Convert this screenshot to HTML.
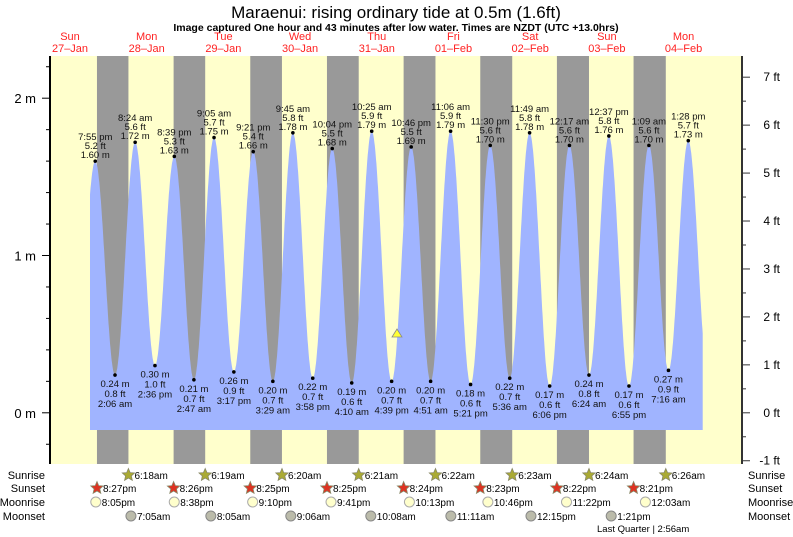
<!DOCTYPE html>
<html><head><meta charset="utf-8"><style>
body{margin:0;background:#fff;}
svg{display:block;font-family:"Liberation Sans",sans-serif;}
</style></head><body>
<svg id="s" width="793" height="537" viewBox="0 0 793 537" xmlns="http://www.w3.org/2000/svg"></svg>
<script>
const S=document.getElementById('s');
function el(tag,attrs,text){const e=document.createElementNS('http://www.w3.org/2000/svg',tag);for(const k in attrs)e.setAttribute(k,attrs[k]);if(text!==undefined)e.textContent=text;S.appendChild(e);return e;}
const X=t=>31.6+t*3.196; // t = hours since midnight Jan 27
const Y=m=>412.8-m*157.3;
// background
el('rect',{x:50,y:56,width:692,height:408,fill:'#ffffcc'});
const sunrise=[[1,6,18],[2,6,19],[3,6,20],[4,6,21],[5,6,22],[6,6,23],[7,6,24],[8,6,26]];
const sunset=[[0,20,27],[1,20,26],[2,20,25],[3,20,25],[4,20,24],[5,20,23],[6,20,22],[7,20,21]];
for(let i=0;i<8;i++){const a=X(sunset[i][0]*24+sunset[i][1]+sunset[i][2]/60),b=X(sunrise[i][0]*24+sunrise[i][1]+sunrise[i][2]/60);el('rect',{x:a,y:56,width:b-a,height:408,fill:'#999999'});}
// tides
const H=[[0,19,55,1.60],[1,2,6,0.24],[1,8,24,1.72],[1,14,36,0.30],[1,20,39,1.63],[2,2,47,0.21],[2,9,5,1.75],[2,15,17,0.26],[2,21,21,1.66],[3,3,29,0.20],[3,9,45,1.78],[3,15,58,0.22],[3,22,4,1.68],[4,4,10,0.19],[4,10,25,1.79],[4,16,39,0.20],[4,22,46,1.69],[5,4,51,0.20],[5,11,6,1.79],[5,17,21,0.18],[5,23,30,1.70],[6,5,36,0.22],[6,11,49,1.78],[6,18,6,0.17],[7,0,17,1.70],[7,6,24,0.24],[7,12,37,1.76],[7,18,55,0.17],[8,1,9,1.70],[8,7,16,0.27],[8,13,28,1.73]];
const E=H.map(h=>[h[0]*24+h[1]+h[2]/60,h[3]]);
const EE=[[E[0][0]-6.2,0.30],...E,[E[E.length-1][0]+6.2,0.25]];
function tide(t){for(let i=0;i<EE.length-1;i++){const[a,va]=EE[i],[b,vb]=EE[i+1];if(t>=a&&t<=b){const f=(1-Math.cos(Math.PI*(t-a)/(b-a)))/2;return va+(vb-va)*f;}}return 0.3;}
const t0=(90-31.6)/3.196,t1=(702.7-31.6)/3.196;
let d=`M90,430 `;for(let t=t0;t<=t1;t+=0.1)d+=`L${X(t).toFixed(1)},${Y(tide(t)).toFixed(1)} `;d+=`L702.7,${Y(tide(t1)).toFixed(1)} L702.7,430 Z`;
el('path',{d:d,fill:'#a0b4ff'});
function fmt(h,m){const ap=h>=12?'pm':'am';let hh=h%12;if(hh==0)hh=12;return hh+':'+String(m).padStart(2,'0')+' '+ap;}
H.forEach(h=>{const t=h[0]*24+h[1]+h[2]/60,x=X(t),y=Y(h[3]),hi=h[3]>1;el('circle',{cx:x,cy:y,r:1.8,fill:'#000'});
const ft=(h[3]/0.3048).toFixed(1)+' ft',m=h[3].toFixed(2)+' m',tm=fmt(h[1],h[2]);
const L=hi?[tm,ft,m]:[m,ft,tm];const ys=hi?[y-21,y-12,y-3]:[y+12,y+22,y+32];
L.forEach((s,i)=>el('text',{x:x,y:ys[i],'font-size':9.5,'text-anchor':'middle',fill:'#111'},s));});
// current triangle
el('polygon',{points:'397,329 392,337 402,337',fill:'#ffff33',stroke:'#888','stroke-width':0.8});
// axes
el('line',{x1:50,y1:56,x2:50,y2:464,stroke:'#000','stroke-width':2});
el('line',{x1:742,y1:56,x2:742,y2:464,stroke:'#333','stroke-width':2});
for(let m=-0.2;m<=2.3;m+=0.2){const y=Y(m);if(y<56||y>464)continue;const major=Math.abs(m-Math.round(m))<0.01;el('line',{x1:major?42:46,y1:y,x2:50,y2:y,stroke:'#000','stroke-width':1});if(major)el('text',{x:36,y:y+5,'font-size':13,'text-anchor':'end',fill:'#000'},Math.round(m)+' m');}
for(let f=-1;f<=7.5;f+=0.5){const y=Y(f*0.3048);if(y<56||y>466)continue;const major=f%1==0;el('line',{x1:742,y1:y,x2:major?750:746,y2:y,stroke:'#333','stroke-width':1});if(major)el('text',{x:780,y:y+4,'font-size':12,'text-anchor':'end',fill:'#000'},f+' ft');}
// titles
el('text',{x:396,y:18,'font-size':17,'text-anchor':'middle',fill:'#000'},'Maraenui: rising  ordinary tide at 0.5m (1.6ft)');
el('text',{x:396,y:31,'font-size':10.5,'font-weight':'bold','text-anchor':'middle',fill:'#000'},'Image captured One hour and 43 minutes after low water. Times are NZDT (UTC +13.0hrs)');
const days=[['Sun','27\u2013Jan'],['Mon','28\u2013Jan'],['Tue','29\u2013Jan'],['Wed','30\u2013Jan'],['Thu','31\u2013Jan'],['Fri','01\u2013Feb'],['Sat','02\u2013Feb'],['Sun','03\u2013Feb'],['Mon','04\u2013Feb']];
days.forEach((dd,i)=>{const x=i==0?70:X(i*24+12);el('text',{x:x,y:40,'font-size':11,'text-anchor':'middle',fill:'#ff2222'},dd[0]);el('text',{x:x,y:52,'font-size':11,'text-anchor':'middle',fill:'#ff2222'},dd[1]);});
// bottom rows
const rows=['Sunrise','Sunset','Moonrise','Moonset'],ry=[475,488,502,516];
rows.forEach((r,i)=>{el('text',{x:45,y:ry[i]+4,'font-size':11,'text-anchor':'end',fill:'#000'},r);el('text',{x:748,y:ry[i]+4,'font-size':11,fill:'#000'},r);});
function star(x,y,fill){let p='';for(let k=0;k<10;k++){const r=k%2?3:6.5,a=-Math.PI/2+k*Math.PI/5;p+=(x+r*Math.cos(a)).toFixed(1)+','+(y+r*Math.sin(a)).toFixed(1)+' ';}el('polygon',{points:p,fill:fill,stroke:'#886',"stroke-width":0.8});}
function tm2(h,m){const ap=h>=12?'pm':'am';let hh=h%12;if(hh==0)hh=12;return hh+':'+String(m).padStart(2,'0')+ap;}
sunrise.forEach(s=>{const x=X(s[0]*24+s[1]+s[2]/60);star(x,ry[0],'#aaaa33');el('text',{x:x+6,y:ry[0]+4,'font-size':10,fill:'#000'},tm2(s[1],s[2]));});
sunset.forEach(s=>{const x=X(s[0]*24+s[1]+s[2]/60);star(x,ry[1],'#dd3322');el('text',{x:x+6,y:ry[1]+4,'font-size':10,fill:'#000'},tm2(s[1],s[2]));});
const mr=[[0,20,5],[1,20,38],[2,21,10],[3,21,41],[4,22,13],[5,22,46],[6,23,22],[8,0,3]];
mr.forEach(s=>{const x=X(s[0]*24+s[1]+s[2]/60);el('circle',{cx:x,cy:ry[2],r:5,fill:'#ffffcc',stroke:'#aaa'});el('text',{x:x+6,y:ry[2]+4,'font-size':10,fill:'#000'},tm2(s[1],s[2]));});
const ms=[[1,7,5],[2,8,5],[3,9,6],[4,10,8],[5,11,11],[6,12,15],[7,13,21]];
ms.forEach(s=>{const x=X(s[0]*24+s[1]+s[2]/60);el('circle',{cx:x,cy:ry[3],r:5,fill:'#bbbbaa',stroke:'#888'});el('text',{x:x+6,y:ry[3]+4,'font-size':10,fill:'#000'},tm2(s[1],s[2]));});
el('text',{x:597,y:532,'font-size':9.5,fill:'#000'},'Last Quarter | 2:56am');
</script>
</body></html>
